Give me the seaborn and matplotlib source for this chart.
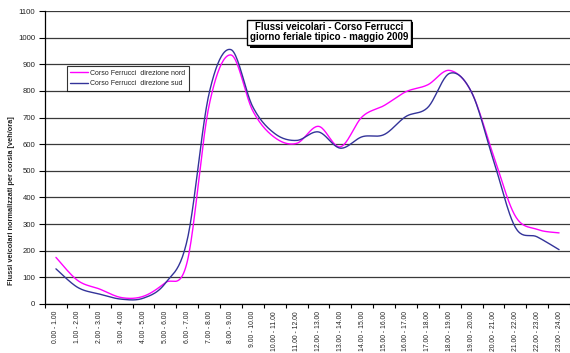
import numpy as np
import pandas as pd
import matplotlib
matplotlib.use("Agg")
import matplotlib.pyplot as plt
import seaborn as sns

# Hourly time slots
fasce = ["0.00 - 1.00", "1.00 - 2.00", "2.00 - 3.00", "3.00 - 4.00", "4.00 - 5.00",
         "5.00 - 6.00", "6.00 - 7.00", "7.00 - 8.00", "8.00 - 9.00", "9.00 - 10.00",
         "10.00 - 11.00", "11.00 - 12.00", "12.00 - 13.00", "13.00 - 14.00",
         "14.00 - 15.00", "15.00 - 16.00", "16.00 - 17.00", "17.00 - 18.00",
         "18.00 - 19.00", "19.00 - 20.00", "20.00 - 21.00", "21.00 - 22.00",
         "22.00 - 23.00", "23.00 - 24.00"]

# Normalised flows per lane [veh/ora]
nord = [175, 88, 56, 24, 29, 80, 158, 745, 935, 725, 625, 603, 667, 590,
        703, 745, 797, 823, 877, 795, 558, 330, 280, 267]
sud = [132, 62, 37, 18, 22, 78, 240, 790, 955, 740, 640, 614, 646, 585,
       628, 636, 704, 738, 866, 795, 540, 288, 252, 204]

serie = {"Corso Ferrucci  direzione nord": nord,
         "Corso Ferrucci  direzione sud": sud}
colori = {"Corso Ferrucci  direzione nord": "#FF00FF",
          "Corso Ferrucci  direzione sud": "#333399"}


def smooth_curve(xs, ys, steps=24):
    """Cubic Bezier smoothing through every point (Catmull-Rom tangents)."""
    p = np.column_stack([xs, ys]).astype(float)
    n = len(p)
    out = []
    t = np.linspace(0, 1, steps)[:, None]
    for i in range(n - 1):
        p0 = p[max(i - 1, 0)]
        p1 = p[i]
        p2 = p[i + 1]
        p3 = p[min(i + 2, n - 1)]
        c1 = p1 + (p2 - p0) / 6.0
        c2 = p2 - (p3 - p1) / 6.0
        seg = ((1 - t) ** 3) * p1 + 3 * ((1 - t) ** 2) * t * c1 \
            + 3 * (1 - t) * t ** 2 * c2 + t ** 3 * p2
        out.append(seg if i == 0 else seg[1:])
    return np.vstack(out)


xpos = np.arange(len(fasce)) + 0.5
frames = []
for nome, vals in serie.items():
    c = smooth_curve(xpos, vals)
    frames.append(pd.DataFrame({"x": c[:, 0], "flusso": c[:, 1], "serie": nome}))
df = pd.concat(frames, ignore_index=True)

sns.set_theme(style="white")
plt.rcParams["font.family"] = ["Liberation Sans", "DejaVu Sans"]

fig = plt.figure(figsize=(5.70, 3.53), dpi=100)
ax = fig.add_axes([45 / 570, 49 / 353, 525 / 570, 293 / 353])

sns.lineplot(data=df, x="x", y="flusso", hue="serie", palette=colori,
             sort=False, estimator=None, linewidth=1.0, ax=ax)

ax.set_xlim(0, len(fasce))
ax.set_ylim(0, 1100)
ax.set_yticks(np.arange(0, 1101, 100))
ax.yaxis.grid(True, color="#3a3a3a", linewidth=0.9)
ax.set_axisbelow(True)

ax.set_xticks(np.arange(0, len(fasce) + 1))
ax.set_xticklabels([])
ax.set_xticks(xpos, minor=True)
ax.set_xticklabels(fasce, minor=True, rotation=90, fontsize=4.9, color="#222222")
ax.tick_params(axis="x", which="major", direction="out", length=3, width=0.8,
               color="black", bottom=True)
ax.tick_params(axis="x", which="minor", length=0, pad=5, bottom=True)
ax.tick_params(axis="y", direction="out", length=4, width=0.8, color="black",
               left=True, labelsize=5.6, pad=3, labelcolor="#222222")

for s in ["top", "right"]:
    ax.spines[s].set_visible(False)
for s in ["left", "bottom"]:
    ax.spines[s].set_color("black")
    ax.spines[s].set_linewidth(0.9)

ax.set_xlabel("")
ax.set_ylabel("")
fig.text(12 / 570, 1 - 201 / 353,
         "Flussi veicolari normalizzati per corsia [veh/ora]",
         rotation=90, ha="center", va="center", fontsize=5.3,
         fontweight="bold", color="#222222")

leg = ax.legend(loc="upper left", bbox_to_anchor=(0.041, 0.812), fontsize=5.0,
                frameon=True, fancybox=False, handlelength=2.6, handletextpad=0.3,
                borderpad=0.5, labelspacing=0.55, borderaxespad=0)
leg.get_frame().set_edgecolor("black")
leg.get_frame().set_linewidth(0.8)
for t in leg.get_texts():
    t.set_color("#222222")

# Title box with drop shadow
titolo = ax.text(0.541, 0.9615,
                 "Flussi veicolari - Corso Ferrucci\ngiorno feriale tipico - maggio 2009",
                 transform=ax.transAxes, ha="center", va="top", fontsize=7.0,
                 fontweight="bold", color="black", linespacing=1.0,
                 bbox=dict(boxstyle="square,pad=0.28", fc="white", ec="black", lw=1.0),
                 zorder=6)
fig.canvas.draw()
bb = titolo.get_bbox_patch().get_window_extent(fig.canvas.get_renderer())
inv = fig.transFigure.inverted()
(x0, y0), (x1, y1) = inv.transform([[bb.x0, bb.y0], [bb.x1, bb.y1]])
dx, dy = 2.5 / 570, -2.5 / 353
ax.add_patch(plt.Rectangle((x0 + dx, y0 + dy), x1 - x0, y1 - y0,
                           transform=fig.transFigure, fc="black",
                           ec="none", zorder=5, clip_on=False))

fig.savefig("out.png", dpi=100)
